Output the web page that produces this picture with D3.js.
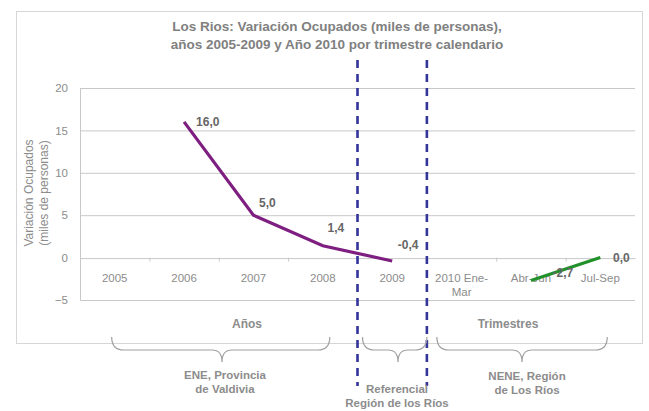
<!DOCTYPE html>
<html>
<head>
<meta charset="utf-8">
<script src="https://cdn.jsdelivr.net/npm/d3@7"></script>
<style>
  body { margin: 0; background: #fff; }
  text { font-family: "Liberation Sans", Arial, sans-serif; }
</style>
</head>
<body>
<div id="vis"></div>
<script>
// chart data
const categories = ["2005", "2006", "2007", "2008", "2009", "2010 Ene-Mar", "Abr-Jun", "Jul-Sep"];
const tickLabels = [["2005"], ["2006"], ["2007"], ["2008"], ["2009"], ["2010 Ene-", "Mar"], ["Abr-Jun"], ["Jul-Sep"]];
const annualValues = [null, 16.0, 5.0, 1.4, -0.4, null, null, null];
const quarterValues = [null, null, null, null, null, null, -2.7, 0.0];
const yTicks = [-5, 0, 5, 10, 15, 20];

const WIDTH = 649, HEIGHT = 411;
const MARGINS = {left: 80, right: 14, top: 88, bottom: 111};

const svg = d3.select("#vis").append("svg")
  .attr("width", WIDTH).attr("height", HEIGHT);

// outer chart frame
svg.append("rect")
  .attr("x", 16.5).attr("y", 11.5).attr("width", 626).attr("height", 332)
  .attr("fill", "#fff").attr("stroke", "#d6d6d6");

const X = d3.scaleBand().domain(categories).range([MARGINS.left, WIDTH - MARGINS.right]);
const Y = d3.scaleLinear().domain([-5, 20]).range([HEIGHT - MARGINS.bottom, MARGINS.top]);
const bw = X.bandwidth();
const cx = (c) => X(c) + bw / 2;

// title
const title = svg.append("text").attr("x", 337).attr("text-anchor", "middle")
  .attr("fill", "#808080").attr("font-size", 13.5).attr("font-weight", "bold");
title.append("tspan").attr("x", 337).attr("y", 31).text("Los Rios: Variación Ocupados (miles de personas),");
title.append("tspan").attr("x", 337).attr("y", 49).text("años 2005-2009 y Año 2010 por trimestre calendario");

// gridlines
svg.append("g").selectAll("line").data(yTicks.filter(d => d > 0)).enter().append("line")
  .attr("x1", MARGINS.left).attr("x2", WIDTH - MARGINS.right)
  .attr("y1", d => Y(d) + 0.5).attr("y2", d => Y(d) + 0.5)
  .attr("stroke", "#c8c8c8");

// plot frame left + bottom
svg.append("path")
  .attr("d", `M${MARGINS.left + 0.5},${Y(20)}V${Y(-5) + 0.5}H${WIDTH - MARGINS.right}`)
  .attr("fill", "none").attr("stroke", "#c8c8c8");

// y axis labels
const yAxis = svg.append("g").attr("transform", `translate(${MARGINS.left},0)`)
  .call(d3.axisLeft(Y).tickValues(yTicks).tickSize(0).tickPadding(12));
yAxis.select(".domain").remove();
yAxis.selectAll("text").attr("fill", "#8c8c8c").attr("font-size", 11.5)
  .style("font-family", "'Liberation Sans', Arial, sans-serif");

// category axis at zero
const xAxis = svg.append("g").attr("transform", `translate(0,${Y(0) + 0.5})`)
  .call(d3.axisBottom(X).tickSize(0).tickFormat(""));
xAxis.select(".domain").attr("stroke", "#c8c8c8");
svg.append("g").selectAll("line").data(categories.slice(1)).enter().append("line")
  .attr("x1", d => X(d) + 0.5).attr("x2", d => X(d) + 0.5)
  .attr("y1", Y(0)).attr("y2", Y(0) + 4).attr("stroke", "#c8c8c8");

const cat = svg.append("g").selectAll("text").data(categories).enter().append("text")
  .attr("text-anchor", "middle").attr("fill", "#8c8c8c").attr("font-size", 11.5);
cat.each(function(d, i) {
  d3.select(this).selectAll("tspan").data(tickLabels[i]).enter().append("tspan")
    .attr("x", cx(d)).attr("y", (t, j) => Y(0) + 24 + j * 14).text(t => t);
});

// y title
const yt = svg.append("text").attr("transform", "translate(33,193) rotate(-90)")
  .attr("text-anchor", "middle").attr("fill", "#8c8c8c").attr("font-size", 12);
yt.append("tspan").attr("x", 0).attr("y", 0).text("Variación Ocupados");
yt.append("tspan").attr("x", 0).attr("y", 15).text("(miles de personas)");

// lines
const line = d3.line().defined(d => d.v !== null).x(d => cx(d.c)).y(d => Y(d.v));
const annual = categories.map((c, i) => ({c: c, v: annualValues[i]}));
const quarter = categories.map((c, i) => ({c: c, v: quarterValues[i]}));

svg.append("path").datum(annual).attr("d", line)
  .attr("fill", "none").attr("stroke", "#7d1e80").attr("stroke-width", 3.2);
svg.append("path").datum(quarter).attr("d", line)
  .attr("fill", "none").attr("stroke", "#22912a").attr("stroke-width", 3.2);

// data labels
const fmt = (v) => v.toFixed(1).replace(".", ",");
const labelOffsets = {"2006": [12, 4], "2007": [14, -8], "2008": [13, -14], "2009": [16, -12], "Abr-Jun": [32, -3], "Jul-Sep": [21, 4]};
const pts = annual.concat(quarter).filter(d => d.v !== null);
svg.append("g").selectAll("text").data(pts).enter().append("text")
  .attr("x", d => cx(d.c) + labelOffsets[d.c][0])
  .attr("y", d => Y(d.v) + labelOffsets[d.c][1])
  .attr("text-anchor", d => d.c === "2006" ? "start" : "middle")
  .attr("fill", "#666").attr("font-size", 12).attr("font-weight", "bold")
  .text(d => fmt(d.v));

// dashed separators
svg.append("g").selectAll("line").data(["2009", "2010 Ene-Mar"]).enter().append("line")
  .attr("x1", d => X(d)).attr("x2", d => X(d))
  .attr("y1", 60).attr("y2", 386)
  .attr("stroke", "#34349a").attr("stroke-width", 2.6).attr("stroke-dasharray", "8,6");

// group labels
svg.append("text").attr("x", 247).attr("y", 328).attr("text-anchor", "middle")
  .attr("fill", "#8c8c8c").attr("font-size", 12).attr("font-weight", "bold").text("Años");
svg.append("text").attr("x", 508).attr("y", 328).attr("text-anchor", "middle")
  .attr("fill", "#8c8c8c").attr("font-size", 12).attr("font-weight", "bold").text("Trimestres");

// braces
function brace(x1, x2, tip) {
  const top = 337, mid = 350, bot = 362;
  return `M${x1},${top} Q${x1},${mid} ${x1 + 12},${mid} L${tip - 10},${mid} Q${tip},${mid} ${tip},${bot}` +
         ` Q${tip},${mid} ${tip + 10},${mid} L${x2 - 12},${mid} Q${x2},${mid} ${x2},${top}`;
}
const braces = [
  [cx("2005") - 3, cx("2008") + 7, 222],
  [X("2009") + 5, X("2010 Ene-Mar"), 398],
  [X("2010 Ene-Mar") + 10, X("Jul-Sep") + bw * 0.6, 522]
];
svg.append("g").selectAll("path").data(braces).enter().append("path")
  .attr("d", d => brace(d[0], d[1], d[2]))
  .attr("fill", "none").attr("stroke", "#a0a0a0").attr("stroke-width", 1.2);

const notes = [
  {x: 225, y: 379, lines: ["ENE, Provincia", "de Valdivia"]},
  {x: 397, y: 393, lines: ["Referencial", "Región de los Ríos"]},
  {x: 527, y: 380, lines: ["NENE, Región", "de Los Ríos"]}
];
notes.forEach(n => {
  const t = svg.append("text").attr("text-anchor", "middle").attr("fill", "#8c8c8c")
    .attr("font-size", 11.5).attr("font-weight", "bold");
  n.lines.forEach((l, i) => t.append("tspan").attr("x", n.x).attr("y", n.y + i * 14).text(l));
});
</script>
</body>
</html>
